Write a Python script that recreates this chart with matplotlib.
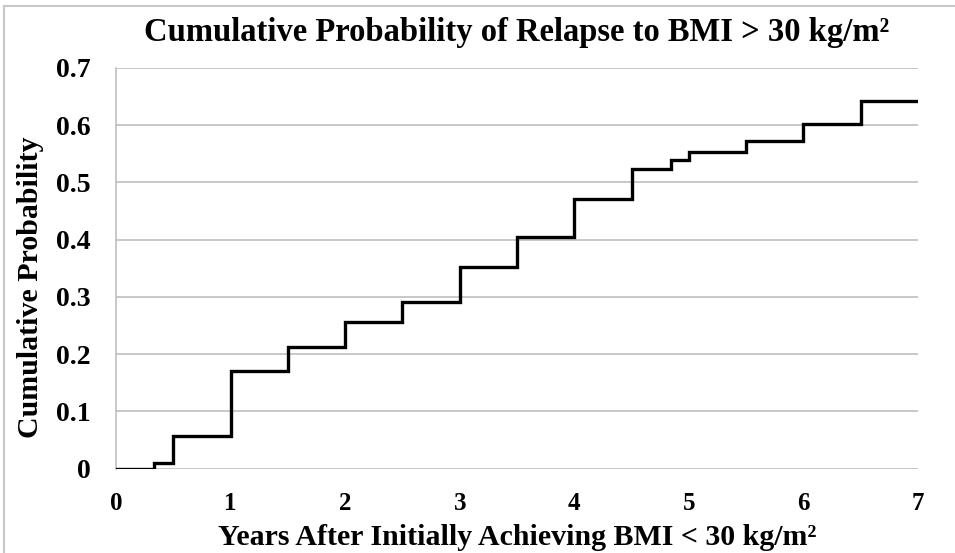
import matplotlib.pyplot as plt
from matplotlib.lines import Line2D

plt.rcParams["font.family"] = ["Liberation Serif", "DejaVu Serif"]
plt.rcParams["font.weight"] = "bold"

years = [0, 0.33, 0.5, 1, 1.5, 2, 2.5, 3, 3.5, 4, 4.5, 4.84, 5, 5.5, 6, 6.5, 7]
cum_prob = [0, 0.01, 0.057, 0.17, 0.213, 0.257, 0.292, 0.353, 0.404, 0.471,
            0.524, 0.540, 0.553, 0.573, 0.602, 0.643, 0.643]
yticks = [0, 0.1, 0.2, 0.3, 0.4, 0.5, 0.6, 0.7]
ytick_labels = ["0", "0.1", "0.2", "0.3", "0.4", "0.5", "0.6", "0.7"]
xticks = [0, 1, 2, 3, 4, 5, 6, 7]

fig = plt.figure(figsize=(9.55, 5.53), dpi=100)
ax = fig.add_axes([116 / 955, 1 - 468.7 / 553, (918 - 116) / 955, (468.7 - 68) / 553])

ax.step(years, cum_prob, where="post", color="black", lw=2.4, zorder=3,
        solid_joinstyle="miter")

ax.set_xlim(0, 7)
ax.set_ylim(0, 0.7)
ax.set_yticks(yticks)
ax.set_yticklabels(ytick_labels)
ax.set_xticks(xticks)
ax.grid(axis="y", color="#BFBFBF", lw=1.2)
ax.set_axisbelow(True)
for s in ["top", "right", "bottom"]:
    ax.spines[s].set_visible(False)
ax.spines["left"].set_color("#BFBFBF")
ax.spines["left"].set_linewidth(1.2)
ax.tick_params(axis="both", length=0)
ax.tick_params(axis="y", pad=18, labelsize=20)
ax.tick_params(axis="x", pad=17, labelsize=18)

ax.set_title("Cumulative Probability of Relapse to BMI > 30 kg/m²",
             fontsize=23.5, fontweight="bold", pad=19.5)
ax.set_xlabel("Years After Initially Achieving BMI < 30 kg/m²",
              fontsize=21.5, fontweight="bold", labelpad=6.5)
ax.set_ylabel("Cumulative Probability", fontsize=21.5, fontweight="bold",
              labelpad=9, y=0.452)

# outer chart border (only left/top visible in the crop)
fig.add_artist(Line2D([4 / 955, 4 / 955], [0, 1 - 6 / 553], color="#C8C8C8", lw=1.5,
                      transform=fig.transFigure))
fig.add_artist(Line2D([4 / 955, 1], [1 - 6 / 553, 1 - 6 / 553], color="#C8C8C8", lw=1.5,
                      transform=fig.transFigure))

fig.savefig("out.png", dpi=100)
